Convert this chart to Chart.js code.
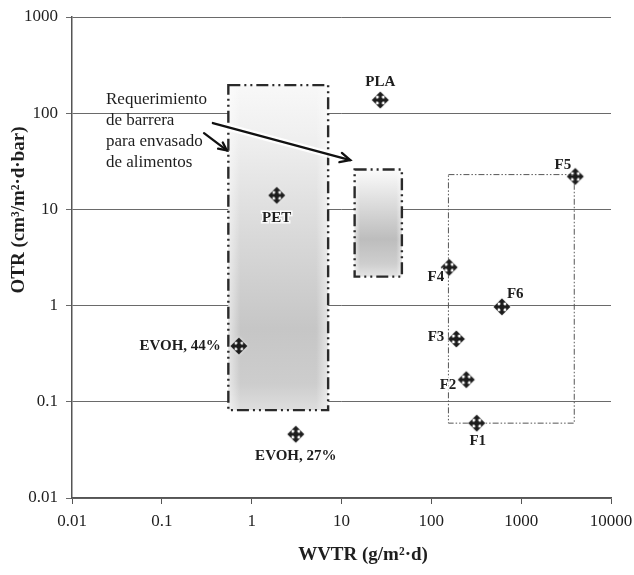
<!DOCTYPE html>
<html>
<head>
<meta charset="utf-8">
<script src="https://cdn.jsdelivr.net/npm/chart.js@4/dist/chart.umd.min.js"></script>
<style>
  html, body { margin: 0; padding: 0; background: #fff; }
  #wrap { width: 634px; height: 575px; position: relative; }
</style>
</head>
<body>
<div id="wrap"><canvas id="chart"></canvas></div>
<script>
// Data (log-log, WVTR vs OTR)
const materials = ['EVOH, 44%', 'EVOH, 27%', 'PET', 'PLA', 'F1', 'F2', 'F3', 'F4', 'F5', 'F6'];
const wvtr = [0.72, 3.1, 1.9, 27, 320, 245, 190, 158, 4000, 610];
const otr = [0.38, 0.046, 14, 137, 0.06, 0.17, 0.45, 2.5, 22, 0.97];

const xTicks = [0.01, 0.1, 1, 10, 100, 1000, 10000];
const yTicks = [0.01, 0.1, 1, 10, 100, 1000];

// Shaded / framed regions (WVTR range, OTR range)
const barrierWvtr = [0.55, 7.1];
const barrierOtr = [0.082, 196];
const plaWvtr = [14, 47];
const plaOtr = [2.0, 26];
const filmsWvtr = [155, 3900];
const filmsOtr = [0.06, 23];

const noteLines = ['Requerimiento', 'de barrera', 'para envasado', 'de alimentos'];

const SERIF = '"Liberation Serif", "DejaVu Serif", serif';
const INK = '#1e1e1e';

// Where each label sits around its point (px)
const labelPlace = {
  'EVOH, 44%': { dx: -18, dy: 0, align: 'right' },
  'EVOH, 27%': { dx: 0, dy: 22, align: 'center' },
  'PET': { dx: 0, dy: 23, align: 'center' },
  'PLA': { dx: 0, dy: -18, align: 'center' },
  'F1': { dx: 1, dy: 18, align: 'center' },
  'F2': { dx: -10, dy: 5, align: 'right' },
  'F3': { dx: -12, dy: -2, align: 'right' },
  'F4': { dx: -5, dy: 10, align: 'right' },
  'F5': { dx: -4, dy: -11, align: 'right' },
  'F6': { dx: 5, dy: -13, align: 'left' }
};

// four-way arrow marker
function makeMarker() {
  const c = document.createElement('canvas');
  c.width = 26; c.height = 26;
  const g = c.getContext('2d');
  const arm = [[-1.6, -1.6], [-1.6, -4.2], [-4.3, -4.2], [0, -8.5], [4.3, -4.2], [1.6, -4.2], [1.6, -1.6]];
  g.shadowColor = '#fff';
  g.shadowBlur = 3;
  g.fillStyle = '#1c1c1c';
  g.beginPath();
  for (let i = 0; i < 4; i++) {
    const a = i * Math.PI / 2, ca = Math.cos(a), sa = Math.sin(a);
    arm.forEach((p, k) => {
      const X = 13 + p[0] * ca - p[1] * sa, Y = 13 + p[0] * sa + p[1] * ca;
      if (i === 0 && k === 0) g.moveTo(X, Y); else g.lineTo(X, Y);
    });
  }
  g.closePath();
  g.fill();
  g.shadowBlur = 0;
  g.beginPath();
  g.arc(13, 13, 2.6, 0, Math.PI * 2);
  g.fill();
  return c;
}

function px(chart, x, y) {
  return [chart.scales.x.getPixelForValue(x), chart.scales.y.getPixelForValue(y)];
}

function shadedBox(ctx, chart, xr, yr, stops) {
  const [x0, y0] = px(chart, xr[0], yr[1]);
  const [x1, y1] = px(chart, xr[1], yr[0]);
  const v = ctx.createLinearGradient(0, y0, 0, y1);
  stops.forEach(s => v.addColorStop(s[0], s[1]));
  ctx.fillStyle = v;
  ctx.fillRect(x0, y0, x1 - x0, y1 - y0);
  const h = ctx.createLinearGradient(x0, 0, x1, 0);
  h.addColorStop(0, 'rgba(255,255,255,0.55)');
  h.addColorStop(0.12, 'rgba(255,255,255,0)');
  h.addColorStop(0.88, 'rgba(255,255,255,0)');
  h.addColorStop(1, 'rgba(255,255,255,0.55)');
  ctx.fillStyle = h;
  ctx.fillRect(x0, y0, x1 - x0, y1 - y0);
  ctx.setLineDash([12, 4, 2, 4, 2, 4]);
  ctx.lineWidth = 2.4;
  ctx.strokeStyle = '#2a2a2a';
  ctx.strokeRect(x0, y0, x1 - x0, y1 - y0);
  ctx.setLineDash([]);
}

function arrow(ctx, a, b, head, halo) {
  const ang = Math.atan2(b[1] - a[1], b[0] - a[0]);
  if (halo) {
    ctx.strokeStyle = 'rgba(255,255,255,0.9)';
    ctx.lineWidth = 7;
    ctx.beginPath(); ctx.moveTo(a[0], a[1]); ctx.lineTo(b[0], b[1]); ctx.stroke();
  }
  ctx.strokeStyle = '#111';
  ctx.lineWidth = 2.3;
  ctx.lineCap = 'round';
  ctx.beginPath(); ctx.moveTo(a[0], a[1]); ctx.lineTo(b[0], b[1]); ctx.stroke();
  ctx.beginPath();
  ctx.moveTo(b[0] - head * Math.cos(ang - 0.45), b[1] - head * Math.sin(ang - 0.45));
  ctx.lineTo(b[0], b[1]);
  ctx.lineTo(b[0] - head * Math.cos(ang + 0.45), b[1] - head * Math.sin(ang + 0.45));
  ctx.stroke();
}

const regionsPlugin = {
  id: 'regions',
  beforeDatasetsDraw(chart) {
    const ctx = chart.ctx;
    ctx.save();
    shadedBox(ctx, chart, barrierWvtr, barrierOtr, [
      [0, '#f8f8f8'], [0.15, '#f0f0f0'], [0.45, '#dadada'],
      [0.75, '#c6c6c6'], [0.92, '#cdcdcd'], [1, '#dedede']
    ]);
    shadedBox(ctx, chart, plaWvtr, plaOtr, [
      [0, '#fbfbfb'], [0.3, '#dedede'], [0.65, '#bdbdbd'],
      [0.88, '#cecece'], [1, '#e4e4e4']
    ]);
    // films region, thin frame
    const [fx0, fy0] = px(chart, filmsWvtr[0], filmsOtr[1]);
    const [fx1, fy1] = px(chart, filmsWvtr[1], filmsOtr[0]);
    ctx.setLineDash([6, 2, 1.5, 2, 1.5, 2]);
    ctx.lineWidth = 1;
    ctx.strokeStyle = '#555';
    ctx.strokeRect(fx0, fy0, fx1 - fx0, fy1 - fy0);
    ctx.setLineDash([]);
    ctx.restore();
  },
  afterDatasetsDraw(chart) {
    const ctx = chart.ctx;
    const area = chart.chartArea;
    ctx.save();
    // arrows of the note
    arrow(ctx, px(chart, 0.37, 79), px(chart, 12.5, 32.5), 11, true);
    arrow(ctx, px(chart, 0.295, 62), px(chart, 0.53, 41), 9, false);

    ctx.fillStyle = INK;
    ctx.font = '17px ' + SERIF;
    ctx.textAlign = 'left';
    ctx.textBaseline = 'middle';
    noteLines.forEach((t, i) => ctx.fillText(t, area.left + 34, area.top + 83 + i * 20.7));

    // point labels
    ctx.font = 'bold 15px ' + SERIF;
    materials.forEach((name, i) => {
      const p = labelPlace[name];
      const [x, y] = px(chart, wvtr[i], otr[i]);
      ctx.textAlign = p.align;
      ctx.lineWidth = 3;
      ctx.strokeStyle = 'rgba(255,255,255,0.85)';
      ctx.strokeText(name, x + p.dx, y + p.dy);
      ctx.fillStyle = INK;
      ctx.fillText(name, x + p.dx, y + p.dy);
    });

    // axis titles
    ctx.font = 'bold 19px ' + SERIF;
    ctx.textAlign = 'center';
    ctx.fillText('WVTR (g/m\u00b2\u00b7d)', 363, 555);
    ctx.translate(19, 210);
    ctx.rotate(-Math.PI / 2);
    ctx.fillText('OTR (cm\u00b3/m\u00b2\u00b7d\u00b7bar)', 0, 0);
    ctx.restore();
  }
};

const points = wvtr.map((x, i) => ({ x: x, y: otr[i] }));

new Chart(document.getElementById('chart'), {
  type: 'scatter',
  data: {
    datasets: [{
      label: 'Materiales',
      data: points,
      pointStyle: makeMarker(),
      pointRadius: 10
    }]
  },
  plugins: [regionsPlugin],
  options: {
    responsive: true,
    maintainAspectRatio: false,
    animation: false,
    devicePixelRatio: 1,
    layout: { padding: { top: 17, right: 23, left: 0, bottom: 0 } },
    plugins: {
      legend: { display: false },
      tooltip: { enabled: false }
    },
    scales: {
      x: {
        type: 'logarithmic',
        min: 0.01,
        max: 10000,
        afterBuildTicks: a => { a.ticks = xTicks.map(v => ({ value: v })); },
        afterFit: s => { s.height = 77; s.paddingLeft = 0; s.paddingRight = 0; },
        grid: { drawOnChartArea: false, drawTicks: true, tickLength: 6, color: '#555' },
        border: { display: true, color: '#555', width: 1.5 },
        ticks: {
          color: INK,
          font: { family: SERIF, size: 17 },
          padding: 7,
          autoSkip: false,
          maxRotation: 0,
          callback: v => String(v)
        }
      },
      y: {
        type: 'logarithmic',
        min: 0.01,
        max: 1000,
        afterBuildTicks: a => { a.ticks = yTicks.map(v => ({ value: v })); },
        afterFit: s => { s.width = 72; s.paddingTop = 0; s.paddingBottom = 0; },
        grid: { drawOnChartArea: true, drawTicks: true, tickLength: 6, color: '#6a6a6a', lineWidth: 1 },
        border: { display: true, color: '#555', width: 1.5 },
        ticks: {
          color: INK,
          font: { family: SERIF, size: 17 },
          padding: 8,
          autoSkip: false,
          callback: v => String(v)
        }
      }
    }
  }
});
</script>
</body>
</html>
